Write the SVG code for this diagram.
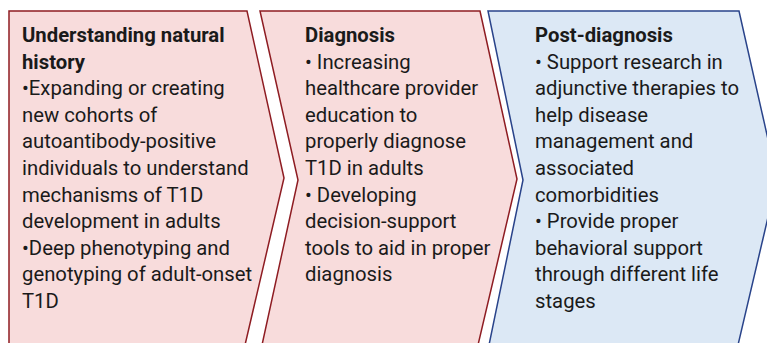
<svg xmlns="http://www.w3.org/2000/svg" width="767" height="343" viewBox="0 0 767 343">
<style>
.red{fill:#f8dcdc;stroke:#8e1c22;stroke-width:1.5}
.blue{fill:#dce8f5;stroke:#29438a;stroke-width:1.5}
text{font-family:Roboto,"Liberation Sans",sans-serif;font-size:20.3px;fill:#1a1a1a}
.h{font-weight:bold}
</style>
<rect width="767" height="343" fill="#ffffff"/>
<g id="connectors"></g>
<g id="natural-history">
<path class="red" d="M9,11 L247,11 L284,178 L245,345 L9,345 Z"/>
<text x="22" y="42"><tspan class="h">Understanding natural</tspan><tspan class="h" x="22" dy="26.6">history</tspan><tspan x="22" dy="26.6">•Expanding or creating</tspan><tspan x="22" dy="26.6">new cohorts of</tspan><tspan x="22" dy="26.6">autoantibody-positive</tspan><tspan x="22" dy="26.6">individuals to understand</tspan><tspan x="22" dy="26.6">mechanisms of T1D</tspan><tspan x="22" dy="26.6">development in adults</tspan><tspan x="22" dy="26.6">•Deep phenotyping and</tspan><tspan x="22" dy="26.6">genotyping of adult-onset</tspan><tspan x="22" dy="26.6">T1D</tspan></text>
</g>
<g id="diagnosis">
<path class="red" d="M260,11 L480,11 L517,179 L478,345 L262,345 L298,180 Z"/>
<text x="305" y="42"><tspan class="h">Diagnosis</tspan><tspan x="305" dy="26.6">• Increasing</tspan><tspan x="305" dy="26.6">healthcare provider</tspan><tspan x="305" dy="26.6">education to</tspan><tspan x="305" dy="26.6">properly diagnose</tspan><tspan x="305" dy="26.6">T1D in adults</tspan><tspan x="305" dy="26.6">• Developing</tspan><tspan x="305" dy="26.6">decision-support</tspan><tspan x="305" dy="26.6">tools to aid in proper</tspan><tspan x="305" dy="26.6">diagnosis</tspan></text>
</g>
<g id="post-diagnosis">
<path class="blue" d="M488,11 L739,11 L777,179 L738,345 L489,345 L523,180 Z"/>
<text x="535" y="42"><tspan class="h">Post-diagnosis</tspan><tspan x="535" dy="26.6">• Support research in</tspan><tspan x="535" dy="26.6">adjunctive therapies to</tspan><tspan x="535" dy="26.6">help disease</tspan><tspan x="535" dy="26.6">management and</tspan><tspan x="535" dy="26.6">associated</tspan><tspan x="535" dy="26.6">comorbidities</tspan><tspan x="535" dy="26.6">• Provide proper</tspan><tspan x="535" dy="26.6">behavioral support</tspan><tspan x="535" dy="26.6">through different life</tspan><tspan x="535" dy="26.6">stages</tspan></text>
</g>
</svg>
